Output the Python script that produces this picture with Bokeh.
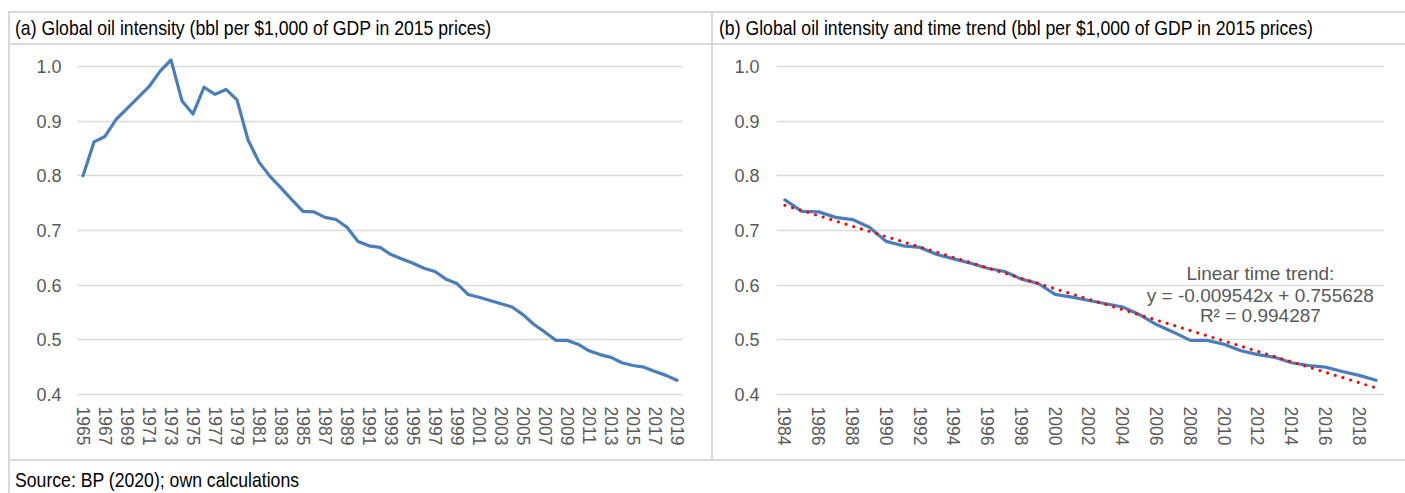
from bokeh.plotting import figure
from bokeh.layouts import column, row
from bokeh.models import Div, FixedTicker, Range1d, Label, ColumnDataSource, NumeralTickFormatter
from bokeh.embed import file_html
from bokeh.resources import INLINE

# ---------------- data ----------------
years = list(range(1965, 2020))
intensity = [
    0.800, 0.862, 0.872, 0.903, 0.923, 0.943, 0.963, 0.991, 1.012, 0.937,
    0.913, 0.962, 0.949, 0.958, 0.939, 0.866, 0.825, 0.799, 0.778, 0.756,
    0.735, 0.734, 0.724, 0.720, 0.706, 0.680, 0.672, 0.669, 0.656, 0.648,
    0.640, 0.631, 0.625, 0.611, 0.603, 0.583, 0.578, 0.572, 0.566, 0.560,
    0.546, 0.528, 0.514, 0.499, 0.499, 0.492, 0.480, 0.473, 0.468, 0.458,
    0.453, 0.450, 0.442, 0.435, 0.426,
]
trend_start = 1984
trend_slope = -0.009542
trend_intercept = 0.755628
trend_r2 = 0.994287
y_ticks = [0.4, 0.5, 0.6, 0.7, 0.8, 0.9, 1.0]
ticks_a = list(range(1965, 2020, 2))
ticks_b = list(range(1984, 2019, 2))
title_a = "(a) Global oil intensity (bbl per $1,000 of GDP in 2015 prices)"
title_b = "(b) Global oil intensity and time trend (bbl per $1,000 of GDP in 2015 prices)"
source_text = "Source: BP (2020); own calculations"
trend_lines = ["Linear time trend:",
               "y = -0.009542x + 0.755628",
               "R\u00b2 = 0.994287"]

# subset for panel (b)
i0 = years.index(trend_start)
years_b = years[i0:]
int_b = intensity[i0:]
trend_b = [trend_intercept + trend_slope * (k + 1) for k in range(len(years_b))]

# ---------------- styling ----------------
BLUE = "#4a7ebb"
GRID = "#d9d9d9"
FRAME = "#d9d9d9"
TICK_COL = "#595959"
FONT = "'Liberation Sans', Arial, sans-serif"
Y0, Y1 = 0.39634, 1.03104


def make_fig(width, x0, x1, ticks, mb_left, mb_right, ystandoff):
    p = figure(width=width, height=414, output_backend="svg", toolbar_location=None,
               x_range=Range1d(x0, x1), y_range=Range1d(Y0, Y1),
               min_border_left=mb_left, min_border_right=mb_right,
               min_border_top=4, min_border_bottom=63)
    p.outline_line_color = None
    p.background_fill_color = "white"
    p.border_fill_color = "white"
    p.xgrid.grid_line_color = None
    p.ygrid.grid_line_color = GRID
    p.ygrid.grid_line_width = 1.5
    p.yaxis.ticker = FixedTicker(ticks=y_ticks)
    p.yaxis.formatter = NumeralTickFormatter(format="0.0")
    p.xaxis.ticker = FixedTicker(ticks=ticks)
    for ax in (p.xaxis[0], p.yaxis[0]):
        ax.axis_line_color = None
        ax.major_tick_line_color = None
        ax.minor_tick_line_color = None
        ax.major_tick_out = 0
        ax.major_tick_in = 0
        ax.major_label_text_font = "Liberation Sans"
        ax.major_label_text_color = TICK_COL
    p.yaxis.major_label_text_font_size = "18px"
    p.yaxis.major_label_standoff = ystandoff
    p.xaxis.major_label_text_font_size = "17.5px"
    p.xaxis.major_label_orientation = "vertical"
    p.xaxis.major_label_standoff = 10
    return p


# panel (a)
pa = make_fig(701, 1964.5, 2019.5, ticks_a, 67, 29, 16)
pa.line(x="year", y="val", source=ColumnDataSource(dict(year=years, val=intensity)),
        line_color=BLUE, line_width=3.2, line_join="round", line_cap="round")

# panel (b)
pb = make_fig(692, 1983.5, 2019.5, ticks_b, 63, 21, 17)
pb.line(x="year", y="val", source=ColumnDataSource(dict(year=years_b, val=int_b)),
        line_color=BLUE, line_width=3.2, line_join="round", line_cap="round")
pb.line(x="year", y="val", source=ColumnDataSource(dict(year=years_b, val=trend_b)),
        line_color="#ff0000", line_width=3.2, line_dash="0 8", line_cap="round")
for txt, yy in zip(trend_lines, [0.6213, 0.5811, 0.5445]):
    pb.add_layout(Label(x=2012.15, y=yy, text=txt, text_align="center", text_baseline="middle",
                        text_font="Liberation Sans", text_font_size="19px",
                        text_color=TICK_COL))

# ---------------- frame / layout ----------------
W = 1397


def line_div(w, h):
    return Div(text="", width=w, height=h, margin=0,
               styles={"background-color": FRAME})


def text_div(txt, w, h, pad_left, line_height, pad_top=0):
    html = (f'<div style="padding-left:{pad_left}px;padding-top:{pad_top}px;'
            f'font-family:{FONT};font-size:21px;line-height:{line_height}px;'
            f'color:#000;white-space:nowrap;">'
            f'<span style="display:inline-block;transform:scaleX(0.84);'
            f'transform-origin:0 50%;">{txt}</span></div>')
    return Div(text=html, width=w, height=h, margin=0, disable_math=True,
               styles={"overflow": "hidden", "background-color": "white"})


top = Div(text="", width=W, height=11, margin=0)
title_row = row(line_div(2, 30), text_div(title_a, 701, 30, 5, 30),
                line_div(2, 30), text_div(title_b, 692, 30, 6, 30), spacing=0)
chart_row = row(line_div(2, 414), pa, line_div(2, 414), pb, spacing=0)
source_row = row(line_div(2, 32), text_div(source_text, W - 2, 32, 5, 25, 6), spacing=0)

inner = column(top, line_div(W, 2), title_row, line_div(W, 2), chart_row,
               line_div(W, 2), source_row, spacing=0)
layout = row(Div(text="", width=8, height=493, margin=0), inner, spacing=0)

open("out.html", "w").write(file_html(layout, INLINE))
